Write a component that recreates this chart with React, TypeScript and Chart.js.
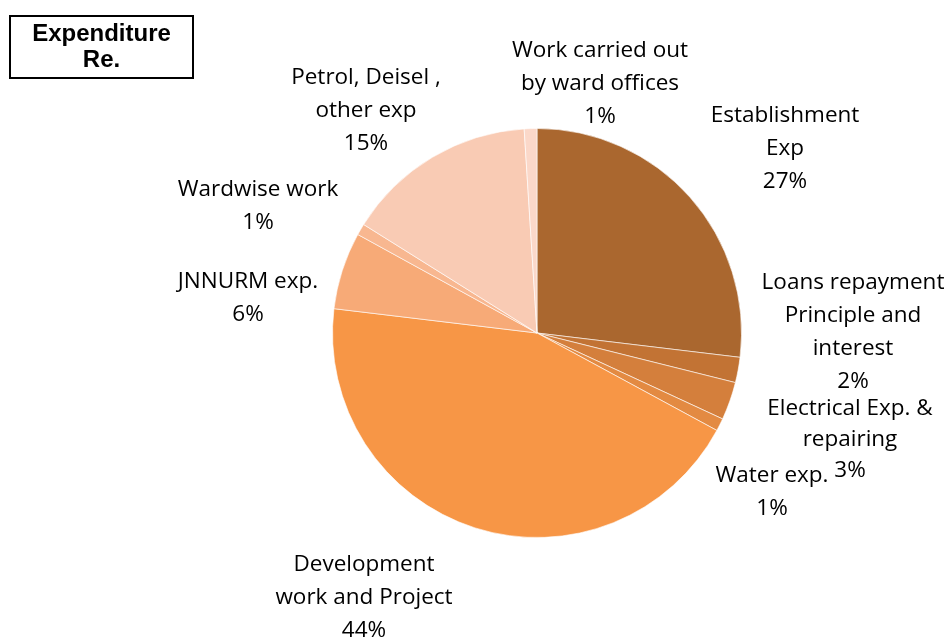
import React, { useEffect, useRef } from "react";
import { Chart, registerables } from "chart.js";

Chart.register(...registerables);

const categories = [
  "Establishment Exp",
  "Loans repayment Principle and interest",
  "Electrical Exp. & repairing",
  "Water exp.",
  "Development work and Project",
  "JNNURM exp.",
  "Wardwise work",
  "Petrol, Deisel , other exp",
  "Work carried out by ward offices",
];
const values = [26.9, 2.0, 3.0, 1.0, 44.0, 6.1, 0.9, 15.1, 1.0];
const percentLabels = ["27%", "2%", "3%", "1%", "44%", "6%", "1%", "15%", "1%"];
const labelLines = [
  ["Establishment", "Exp"],
  ["Loans repayment", "Principle and", "interest"],
  ["Electrical Exp. &", "repairing"],
  ["Water exp."],
  ["Development", "work and Project"],
  ["JNNURM exp."],
  ["Wardwise work"],
  ["Petrol, Deisel ,", "other exp"],
  ["Work carried out", "by ward offices"],
];
const colors = [
  "#AA672F",
  "#C27334",
  "#D47F3C",
  "#E38A42",
  "#F79646",
  "#F7AA77",
  "#F8B790",
  "#F9CBB4",
  "#FBD8C9",
];

// label anchor offsets (from pie centre) for first line of each label
const labelOffsets: [number, number][] = [
  [248, -217],
  [316, -50],
  [313, 76],
  [235, 143],
  [-173, 232],
  [-289, -51],
  [-279, -143],
  [-171, -255],
  [63, -282],
];

const labelPlugin = {
  id: "outsideLabels",
  afterDraw(chart: any) {
    const ctx = chart.ctx;
    const meta = chart.getDatasetMeta(0);
    ctx.save();
    ctx.font = "22.5px 'Open Sans', Lato, sans-serif";
    ctx.fillStyle = "#000";
    ctx.textAlign = "center";
    ctx.textBaseline = "middle";
    meta.data.forEach((arc: any, i: number) => {
      const cx = arc.x;
      const cy = arc.y;
      const [dx, dy] = labelOffsets[i];
      const lines = [...labelLines[i], percentLabels[i]];
      const lh = i === 2 ? 31 : 33;
      lines.forEach((t, k) => {
        ctx.fillText(t, cx + dx, cy + dy + k * lh);
      });
    });
    ctx.restore();
  },
};

export default function App() {
  const ref = useRef<HTMLCanvasElement>(null);
  useEffect(() => {
    if (!ref.current) return;
    const chart = new Chart(ref.current, {
      type: "pie",
      data: {
        labels: categories,
        datasets: [
          {
            data: values,
            backgroundColor: colors,
            borderColor: "rgba(255,255,255,0.6)",
            borderWidth: 1,
          },
        ],
      },
      options: {
        animation: false,
        responsive: false,
        layout: { padding: { left: 332, right: 209, top: 128, bottom: 101 } },
        plugins: {
          legend: { display: false },
          tooltip: { enabled: false },
          title: { display: false },
        },
      },
      plugins: [labelPlugin],
    });
    return () => chart.destroy();
  }, []);
  return (
    <div style={{ position: "fixed", left: 0, top: 0, width: 951, height: 639, background: "#fff" }}>
      <canvas ref={ref} width={951} height={639} style={{ position: "absolute", left: 0, top: 0 }} />
      <div
        style={{
          position: "absolute",
          left: 9,
          top: 15,
          width: 185,
          height: 64,
          border: "2px solid #000",
          fontFamily: "'Liberation Sans', Arial, sans-serif",
          fontWeight: "bold",
          fontSize: 24,
          textAlign: "center",
          lineHeight: "26px",
          paddingTop: 3,
          boxSizing: "border-box",
        }}
      >
        Expenditure
        <br />
        Re.
      </div>
    </div>
  );
}
